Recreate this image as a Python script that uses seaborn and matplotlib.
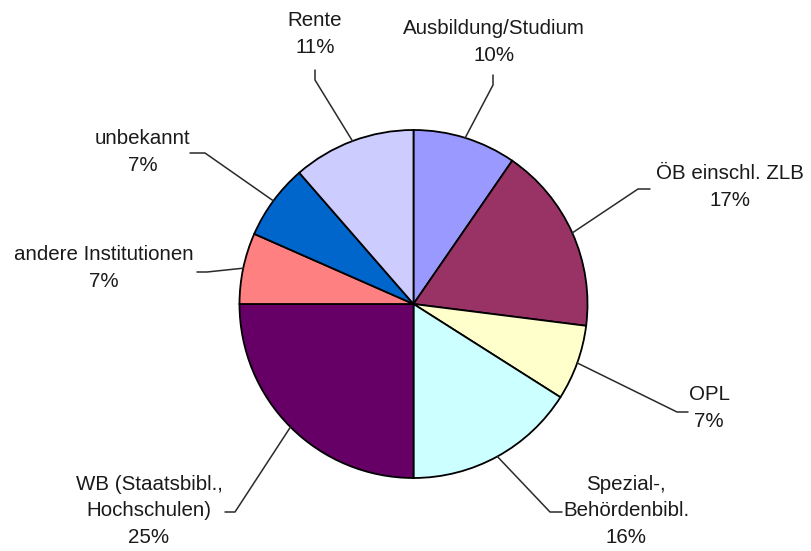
import numpy as np
import seaborn as sns
import matplotlib.pyplot as plt

# data
categories = ["Ausbildung/Studium", "ÖB einschl. ZLB", "OPL", "Spezial-,\nBehördenbibl.",
              "WB (Staatsbibl.,\nHochschulen)", "andere Institutionen", "unbekannt", "Rente"]
shares = [9.6, 17.4, 7.0, 16.0, 25.0, 6.6, 7.0, 11.4]
colors = ["#9999FF", "#993366", "#FFFFCC", "#CCFFFF", "#660066", "#FF8080", "#0066CC", "#CCCCFF"]

# label layout in pixel coordinates (x, y from top)
label_pos = [(494, 42), (730, 187), (709, 408), (626, 511), (149, 511), (103.5, 268), (142.5, 152), (315, 34)]
# leader line: elbow point and end point next to the label
elbow = [(493, 85), (638, 189), (677, 412), (550, 512), (235, 512), (207, 272), (205, 153), (315, 80)]
tail = [(493, 75), (650, 189), (688, 412), (562, 512), (225, 512), (197, 272), (190, 153), (315, 70)]

W, H = 811, 551
cx, cy, r = 413.5, 304, 174


def px(p):
    return p[0], H - p[1]


sns.set_theme(style="white")
plt.rcParams['font.family'] = ['Liberation Sans', 'DejaVu Sans']

fig = plt.figure(figsize=(W / 100, H / 100), dpi=100)
ax = fig.add_axes([0, 0, 1, 1])

wedges, _ = ax.pie(shares, colors=colors, startangle=90, counterclock=False,
                   center=px((cx, cy)), radius=r,
                   wedgeprops=dict(edgecolor="black", linewidth=1.3))

for w, name, val, lp, e, t in zip(wedges, categories, shares, label_pos, elbow, tail):
    mid = np.deg2rad((w.theta1 + w.theta2) / 2)
    start = (cx + r * np.cos(mid), H - cy + r * np.sin(mid))
    ex, ey = px(e)
    tx, ty = px(t)
    ax.plot([start[0], ex, tx], [start[1], ey, ty], color="#2a2a2a", lw=1.1)
    x, y = px(lp)
    ax.text(x, y, f"{name}\n{round(val)}%", ha="center", va="center",
            multialignment="center", fontsize=14.8, color="#1a1a1a", linespacing=1.5)

ax.set_xlim(0, W)
ax.set_ylim(0, H)
ax.set_aspect("auto")
ax.axis("off")

fig.savefig("out.png", dpi=100, facecolor="white")
